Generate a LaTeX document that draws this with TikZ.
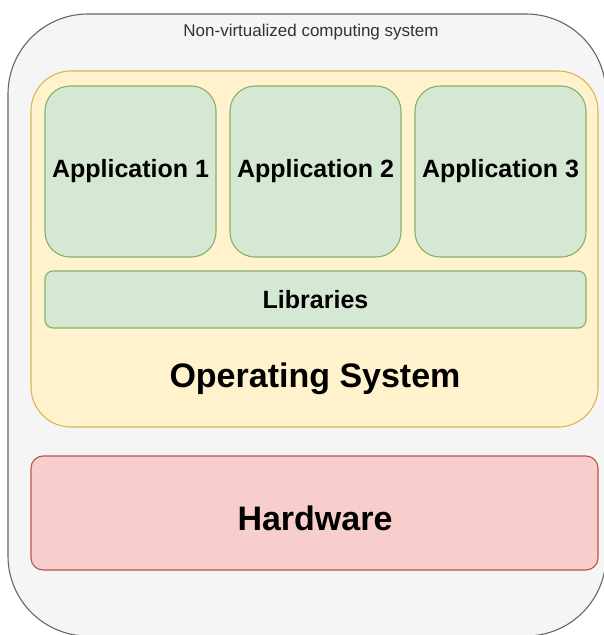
\documentclass[tikz,border=0pt]{standalone}
\usepackage{fontspec}
\setmainfont{Liberation Sans}
\usepackage{tikz}

\definecolor{sysfill}{HTML}{F5F5F5}
\definecolor{sysline}{HTML}{666666}
\definecolor{osfill}{HTML}{FFF2CC}
\definecolor{osline}{HTML}{D6B656}
\definecolor{appfill}{HTML}{D5E8D4}
\definecolor{appline}{HTML}{82B366}
\definecolor{hwfill}{HTML}{F8CECC}
\definecolor{hwline}{HTML}{B85450}

\begin{document}
\begin{tikzpicture}[x=1pt,y=-1pt,
        box/.style={draw,line width=1.1pt,inner sep=0pt},
        app/.style={box,fill=appfill,draw=appline,rounded corners=25pt,
            minimum width=171pt,minimum height=171pt,
            font=\bfseries\fontsize{25}{30}\selectfont},
        big/.style={font=\bfseries\fontsize{34}{40}\selectfont}]
        \clip (0,0) rectangle (604,635);
        % outer system
        \node[box,fill=sysfill,draw=sysline,rounded corners=80pt,
            minimum width=598pt,minimum height=622pt] (sys) at (307,325) {};
        \node[text=black!80,font=\fontsize{17}{20}\selectfont] (title) at (311,32) {Non-virtualized computing system};
        % operating system
        \node[box,fill=osfill,draw=osline,rounded corners=40pt,
            minimum width=567pt,minimum height=356pt] (os) at (314.5,249) {};
        \node[big] (ostext) at (315,379) {Operating System};
        % applications and libraries
        \node[app] (app1) at (130.5,171.5) {Application 1};
        \node[app] (app2) at (315.5,171.5) {Application 2};
        \node[app] (app3) at (500.5,171.5) {Application 3};
        \node[box,fill=appfill,draw=appline,rounded corners=8pt,
            minimum width=541pt,minimum height=57pt,
            font=\bfseries\fontsize{25}{30}\selectfont] (libs) at (315.5,299.5) {Libraries};
        % hardware
        \node[box,fill=hwfill,draw=hwline,rounded corners=12pt,
            minimum width=567pt,minimum height=114pt] (hw) at (314.5,513) {};
        \node[big] (hwtext) at (315,518) {Hardware};
    \end{tikzpicture}
\end{document}
